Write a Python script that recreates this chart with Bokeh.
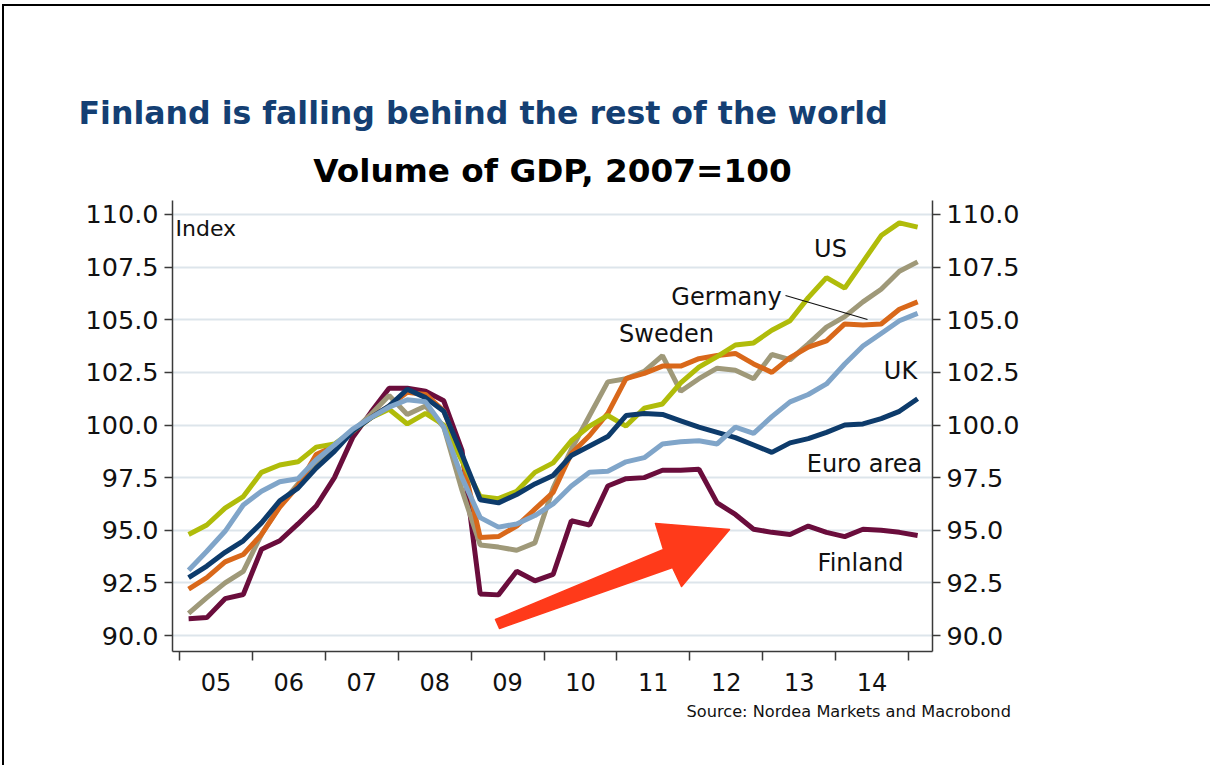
from bokeh.plotting import figure
from bokeh.models import Range1d, FixedTicker, LinearAxis, Label, PrintfTickFormatter, Title
from bokeh.embed import file_html
from bokeh.resources import INLINE

# ---------------- data ----------------
start_year = 2005
n_quarters = 41  # 2005Q1 .. 2015Q1
quarter_x = [start_year + (i // 4) + (i % 4) * 0.25 + 0.125 for i in range(n_quarters)]

us = [94.8, 95.25, 96.05, 96.6, 97.75, 98.1, 98.25, 98.95, 99.1, 99.7,
      100.35, 100.75, 100.05, 100.55, 100.0, 98.3, 96.6, 96.5, 96.85, 97.75,
      98.2, 99.25, 99.95, 100.45, 99.95, 100.8, 101.0, 102.0, 102.75, 103.25,
      103.8, 103.9, 104.5, 104.95, 106.05, 107.0, 106.5, 107.75, 109.0, 109.6,
      109.4]
sweden = [91.05, 91.8, 92.5, 93.05, 94.8, 96.15, 97.2, 98.1, 98.85, 99.7,
          100.5, 101.4, 100.5, 100.9, 99.9, 96.9, 94.3, 94.2, 94.05, 94.4,
          97.0, 98.85, 100.45, 102.05, 102.2, 102.55, 103.3, 101.6, 102.2, 102.7,
          102.6, 102.2, 103.35, 103.1, 103.85, 104.65, 105.15, 105.85, 106.45, 107.3,
          107.75]
germany = [92.2, 92.75, 93.5, 93.85, 94.8, 96.1, 97.1, 98.6, 99.0, 99.7,
           100.35, 100.9, 101.55, 101.45, 100.67, 98.45, 94.65, 94.7, 95.2, 96.0,
           96.8, 98.65, 99.5, 100.55, 102.2, 102.45, 102.8, 102.8, 103.15, 103.3,
           103.4, 102.9, 102.5, 103.2, 103.7, 104.0, 104.8, 104.75, 104.8, 105.5,
           105.85]
uk = [93.1, 94.0, 94.95, 96.2, 96.85, 97.3, 97.45, 98.35, 99.05, 99.8,
      100.35, 100.85, 101.2, 101.1, 99.9, 97.5, 95.6, 95.15, 95.3, 95.7,
      96.25, 97.1, 97.75, 97.8, 98.25, 98.45, 99.1, 99.2, 99.25, 99.1,
      99.9, 99.6, 100.4, 101.1, 101.45, 101.95, 102.9, 103.75, 104.35, 104.95,
      105.3]
euro_area = [92.75, 93.3, 93.95, 94.5, 95.35, 96.4, 97.0, 97.95, 98.75, 99.7,
             100.35, 100.9, 101.7, 101.3, 100.65, 98.6, 96.45, 96.3, 96.7, 97.2,
             97.6, 98.55, 99.0, 99.45, 100.45, 100.55, 100.5, 100.2, 99.9, 99.65,
             99.4, 99.05, 98.7, 99.15, 99.35, 99.65, 100.0, 100.05, 100.3, 100.65,
             101.25]
finland = [90.8, 90.85, 91.75, 91.95, 94.1, 94.5, 95.3, 96.15, 97.5, 99.4,
           100.6, 101.75, 101.75, 101.6, 101.15, 98.8, 91.97, 91.93, 93.05, 92.6,
           92.9, 95.45, 95.25, 97.1, 97.45, 97.5, 97.85, 97.85, 97.9, 96.3,
           95.75, 95.05, 94.9, 94.8, 95.2, 94.9, 94.7, 95.05, 95.0, 94.9,
           94.75]

year_ticks = list(range(2005, 2016))
year_labels = ["05", "06", "07", "08", "09", "10", "11", "12", "13", "14"]
y_ticks = [90.0, 92.5, 95.0, 97.5, 100.0, 102.5, 105.0, 107.5, 110.0]

title_text = "Finland is falling behind the rest of the world"
subtitle_text = "Volume of GDP, 2007=100"
source_text = "Source: Nordea Markets and Macrobond"

# ---------------- layout geometry ----------------
MX, MY = 2, 4                  # page margins before the border
BW = 2                         # border width
OX, OY = MX + BW, MY + BW      # canvas origin on the page
W, H = 1212 - OX, 767 - OY
FL, FR, FT, FB = 172, 932, 200, 651   # frame edges on the page
X0, X1 = 2004.904, 2015.329
Y0, Y1 = 89.24, 110.665

def dx(px):
    return X0 + (px - FL) / (FR - FL) * (X1 - X0)

def dy(py):
    return Y1 - (py - FT) / (FB - FT) * (Y1 - Y0)

FONT = "DejaVu Sans"
AXIS_COL = "#3a3a3a"

p = figure(width=W, height=H, x_range=Range1d(X0, X1), y_range=Range1d(Y0, Y1),
           output_backend="svg", toolbar_location=None,
           min_border_left=FL - OX, min_border_right=(W + OX) - FR,
           min_border_top=FT - OY, min_border_bottom=(H + OY) - FB)
p.styles = {"border-left": "2px solid #000", "border-top": "2px solid #000",
            "margin-left": "%dpx" % MX, "margin-top": "%dpx" % MY}
p.outline_line_color = None
p.background_fill_color = "white"
p.border_fill_color = "white"

# titles (stacked above the frame: first added is nearest the frame)
p.add_layout(Title(text=subtitle_text, align="center", text_font=FONT,
                   text_font_size="32.7px", text_font_style="bold",
                   text_color="#000000", standoff=22), "above")
p.add_layout(Title(text=title_text, align="left", offset=-94, text_font=FONT,
                   text_font_size="31.6px", text_font_style="bold",
                   text_color="#143f73", standoff=16), "above")

# grid
p.xgrid.visible = False
p.ygrid.ticker = FixedTicker(ticks=y_ticks)
p.ygrid.grid_line_color = "#dde5eb"
p.ygrid.grid_line_width = 2

# bottom axis: labels mid-year, tick marks at year boundaries
xa = p.xaxis[0]
xa.ticker = FixedTicker(ticks=[y + 0.5 for y in year_ticks[:-1]], minor_ticks=year_ticks)
xa.major_label_overrides = {y + 0.5: lab for y, lab in zip(year_ticks, year_labels)}
xa.major_tick_out = 0
xa.major_tick_in = 0
xa.minor_tick_out = 9
xa.minor_tick_in = 0
xa.minor_tick_line_color = AXIS_COL
xa.minor_tick_line_width = 1.5
xa.axis_line_color = AXIS_COL
xa.axis_line_width = 1.5
xa.major_label_text_font = FONT
xa.major_label_text_font_size = "24px"
xa.major_label_text_color = "#111111"
xa.major_label_standoff = 12

def style_y(ax):
    ax.ticker = FixedTicker(ticks=y_ticks)
    ax.formatter = PrintfTickFormatter(format="%.1f")
    ax.major_tick_out = 8
    ax.major_tick_in = 0
    ax.minor_tick_line_color = None
    ax.major_tick_line_color = AXIS_COL
    ax.major_tick_line_width = 1.5
    ax.axis_line_color = AXIS_COL
    ax.axis_line_width = 1.5
    ax.major_label_text_font = FONT
    ax.major_label_text_font_size = "25.5px"
    ax.major_label_text_color = "#111111"
    ax.major_label_standoff = 6

style_y(p.yaxis[0])
ra = LinearAxis()
style_y(ra)
p.add_layout(ra, "right")

# source line below the axis
p.add_layout(Title(text=source_text, align="left", offset=686 - FL, text_font=FONT,
                   text_font_size="16.2px", text_font_style="normal",
                   text_color="#111111", standoff=12), "below")

# series
series = [
    (finland, "#6a0d3c"),
    (sweden, "#9f9979"),
    (germany, "#d9681a"),
    (us, "#b0bc0a"),
    (euro_area, "#0d3b6b"),
    (uk, "#80a5c9"),
]
for vals, col in series:
    p.line(quarter_x, vals, line_width=5, line_color=col)

# leader line for Germany
p.line([dx(785), dx(867)], [dy(295), dy(319)], line_color="#111111", line_width=1.2)

# red arrow (annotation)
arrow_px = [(495, 619), (663, 549), (655, 523), (729, 529), (681, 586), (672, 567), (499, 628)]
p.patch([dx(a) for a, b in arrow_px], [dy(b) for a, b in arrow_px],
        fill_color="#ff3a1a", line_color="#ff3a1a", line_width=1.5, line_join="round")

# texts inside the frame
def lab(px, py, text, size, align="center", color="#111111"):
    p.add_layout(Label(x=dx(px), y=dy(py), text=text, text_font=FONT,
                       text_font_size=size, text_align=align, text_baseline="middle",
                       text_color=color))

lab(175, 228, "Index", "22px", align="left")
lab(830, 248, "US", "24px")
lab(726, 296, "Germany", "24px")
lab(666, 333, "Sweden", "24px")
lab(900, 370, "UK", "24px")
lab(864, 463, "Euro area", "24px")
lab(860, 562, "Finland", "24px")

open("out.html", "w").write(file_html(p, INLINE))
